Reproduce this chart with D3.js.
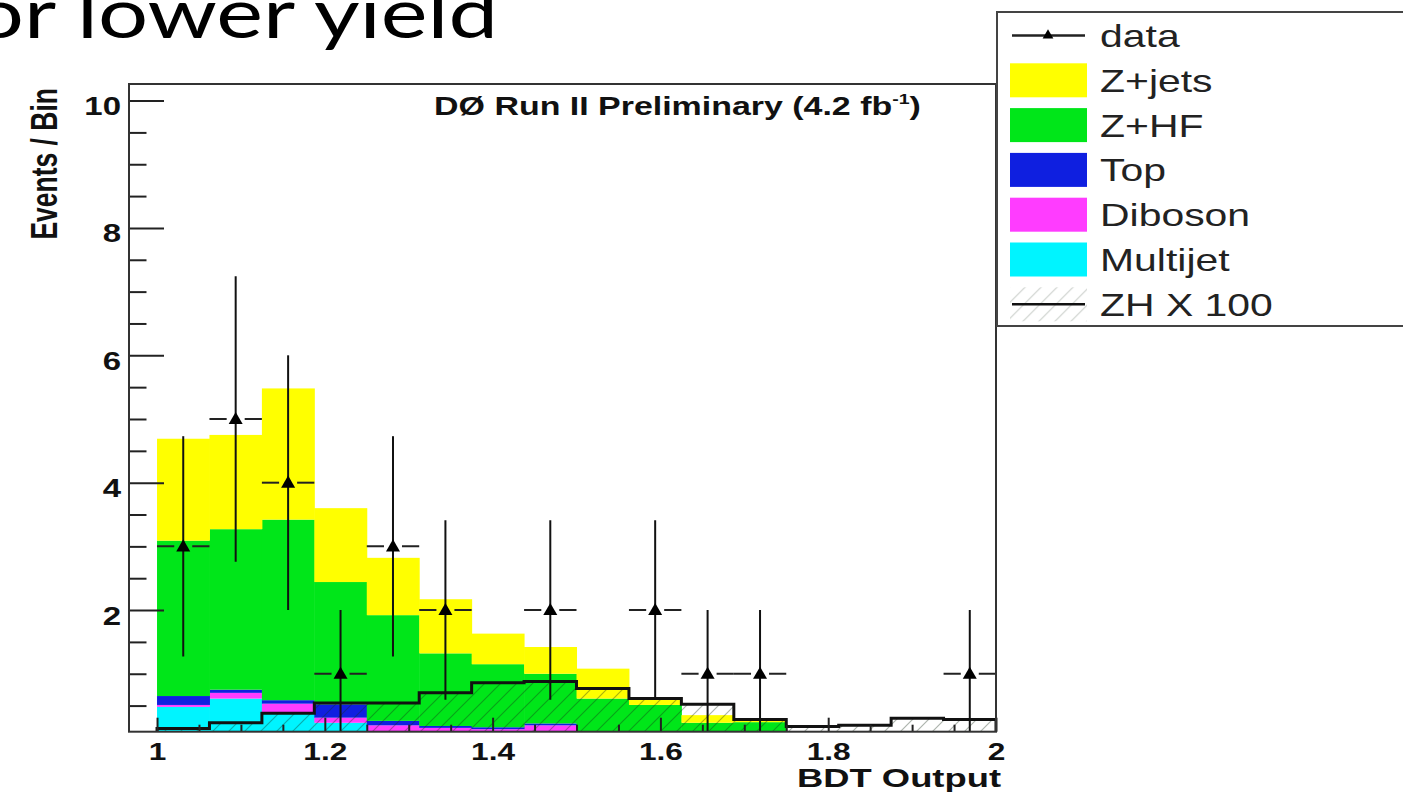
<!DOCTYPE html>
<html lang="en">
<head>
<meta charset="UTF-8">
<title>BDT Output</title>
<script src="https://cdnjs.cloudflare.com/ajax/libs/d3/7.8.5/d3.min.js"></script>
<style>
  body { margin: 0; background: #fff; }
  svg { display: block; }
  .axis path.domain { display: none; }
  .axis line { stroke: #222; stroke-width: 2px; }
  .axis text { font-family: "Liberation Sans", Arial, sans-serif; font-weight: bold; fill: #111; }
  .xaxis text { font-size: 24px; }
  .yaxis text { font-size: 25px; }
</style>
</head>
<body>
<script>
// bin edges of the BDT output histogram
var binEdges = [1.0000, 1.0625, 1.1250, 1.1875, 1.2500, 1.3125, 1.3750, 1.4375, 1.5000,
                1.5625, 1.6250, 1.6875, 1.7500, 1.8125, 1.8750, 1.9375, 2.0000];

// stacked backgrounds (events per bin), bottom to top
var multijet = [0.48, 0.61, 0.38, 0.23, 0.05, 0.05, 0.05, 0.06, 0.02, 0.02, 0.01, 0.01, 0.01, 0, 0, 0];
var diboson  = [0.03, 0.09, 0.15, 0.08, 0.14, 0.10, 0.08, 0.13, 0.02, 0.01, 0.01, 0.01, 0, 0, 0, 0];
var topq     = [0.14, 0.05, 0.055, 0.21, 0.07, 0.03, 0.03, 0.03, 0.02, 0.02, 0.01, 0.01, 0, 0, 0, 0];
var zhf      = [2.44, 2.52, 2.835, 1.92, 1.66, 1.14, 0.99, 0.78, 0.55, 0.46, 0.20, 0.21, 0.04, 0.02, 0.02, 0.01];
var zjets    = [1.60, 1.48, 2.06, 1.16, 0.90, 0.85, 0.48, 0.42, 0.47, 0.12, 0.12, 0.06, 0.03, 0.02, 0.01, 0.01];

// signal ZH x 100 (outline, hatched)
var zh100 = [0.14, 0.23, 0.38, 0.54, 0.54, 0.70, 0.86, 0.88, 0.77, 0.61, 0.52, 0.28, 0.17, 0.19, 0.30, 0.28];

// observed data and errors
var dataCounts = [3, 5, 4, 1, 3, 2, 0, 2, 0, 2, 1, 1, 0, 0, 0, 1];
var dataErr    = [1.73, 2.24, 2, 1, 1.73, 1.41, 0, 1.41, 0, 1.41, 1, 1, 0, 0, 0, 1];

var xMajor = [1, 1.2, 1.4, 1.6, 1.8, 2];
var xTickLabels = ["1", "1.2", "1.4", "1.6", "1.8", "2"];
var yMajor = [2, 4, 6, 8, 10];
var yTickLabels = ["2", "4", "6", "8", "10"];

var layerKeys = ["multijet", "diboson", "top", "zhf", "zjets"];
var layerColors = {
    multijet: "#00f4ff",
    diboson: "#ff3cff",
    top: "#0f1fe0",
    zhf: "#00e619",
    zjets: "#ffff00"
};
var legendLabels = ["data", "Z+jets", "Z+HF", "Top", "Diboson", "Multijet", "ZH X 100"];
var legendKeys = ["data", "zjets", "zhf", "top", "diboson", "multijet", "zh"];

var W = 1403, H = 797;
var SX = 1.32; // the whole slide is stretched horizontally
var plot = { left: 129, right: 996, top: 84, bottom: 731.7 };

var svg = d3.select("body").append("svg")
    .attr("width", W)
    .attr("height", H);

var defs = svg.append("defs");
defs.append("clipPath").attr("id", "plotclip")
    .append("rect")
    .attr("x", plot.left).attr("y", plot.top)
    .attr("width", plot.right - plot.left)
    .attr("height", plot.bottom - plot.top);

var hatch = defs.append("pattern")
    .attr("id", "hatch")
    .attr("patternUnits", "userSpaceOnUse")
    .attr("width", 16).attr("height", 16);
hatch.append("path")
    .attr("d", "M-4,4 L4,-4 M0,16 L16,0 M12,20 L20,12")
    .attr("stroke", "rgba(20,40,20,0.35)")
    .attr("stroke-width", 1.2);

var x = d3.scaleLinear().domain([0.9666, 2]).range([plot.left, plot.right]);
var y = d3.scaleLinear().domain([0.09, 10.26]).range([plot.bottom, plot.top]);

// bins table for the stack
var bins = binEdges.slice(0, -1).map(function(lo, i) {
    return {
        lo: lo,
        hi: binEdges[i + 1],
        multijet: multijet[i],
        diboson: diboson[i],
        top: topq[i],
        zhf: zhf[i],
        zjets: zjets[i]
    };
});

var stacked = d3.stack().keys(layerKeys)(bins);

var g = svg.append("g").attr("clip-path", "url(#plotclip)");

g.selectAll(".layer")
    .data(stacked)
    .enter().append("g")
    .attr("class", "layer")
    .attr("fill", function(d) { return layerColors[d.key]; })
    .selectAll("rect")
    .data(function(d) { return d; })
    .enter().append("rect")
    .attr("x", function(d) { return x(d.data.lo); })
    .attr("width", function(d) { return x(d.data.hi) - x(d.data.lo) + 0.5; })
    .attr("y", function(d) { return y(d[1]); })
    .attr("height", function(d) { return Math.max(0, y(d[0]) - y(d[1])); });

// ZH x 100 step outline + hatch
var zhPts = [];
bins.forEach(function(b, i) {
    zhPts.push([b.lo, zh100[i]]);
    zhPts.push([b.hi, zh100[i]]);
});
var zhArea = d3.area()
    .x(function(d) { return x(d[0]); })
    .y0(y(0.09))
    .y1(function(d) { return y(d[1]); });
g.append("path")
    .datum(zhPts)
    .attr("d", zhArea)
    .attr("fill", "url(#hatch)");

var outline = [[1, 0.09]].concat(zhPts).concat([[2, 0.09]]);
g.append("path")
    .datum(outline)
    .attr("d", d3.line().x(function(d) { return x(d[0]); }).y(function(d) { return y(d[1]); }))
    .attr("fill", "none")
    .attr("stroke", "#111")
    .attr("stroke-width", 3);

// data points
var pts = bins.map(function(b, i) {
    return { lo: b.lo, hi: b.hi, c: (b.lo + b.hi) / 2, v: dataCounts[i], e: dataErr[i] };
}).filter(function(d) { return d.v > 0; });

var dg = g.selectAll(".pt").data(pts).enter().append("g").attr("class", "pt");
dg.append("line")
    .attr("x1", function(d) { return x(d.c); })
    .attr("x2", function(d) { return x(d.c); })
    .attr("y1", function(d) { return y(d.v - d.e); })
    .attr("y2", function(d) { return y(d.v + d.e); })
    .attr("stroke", "#111").attr("stroke-width", 2);
dg.append("line")
    .attr("x1", function(d) { return x(d.lo); })
    .attr("x2", function(d) { return x(d.c) - 9; })
    .attr("y1", function(d) { return y(d.v); })
    .attr("y2", function(d) { return y(d.v); })
    .attr("stroke", "#222").attr("stroke-width", 2);
dg.append("line")
    .attr("x1", function(d) { return x(d.c) + 9; })
    .attr("x2", function(d) { return x(d.hi); })
    .attr("y1", function(d) { return y(d.v); })
    .attr("y2", function(d) { return y(d.v); })
    .attr("stroke", "#222").attr("stroke-width", 2);
dg.append("path")
    .attr("d", d3.symbol(d3.symbolTriangle, 85))
    .attr("transform", function(d) { return "translate(" + x(d.c) + "," + (y(d.v) + 1) + ")"; })
    .attr("fill", "#000");

// axes
var xMinor = d3.range(1, 2.0001, 0.05).filter(function(v) {
    return Math.abs(v * 5 - Math.round(v * 5)) > 1e-6;
});
var yMinor = d3.range(0.5, 10.01, 0.5).filter(function(v) { return v % 2 !== 0; });

var xAx = svg.append("g").attr("class", "axis xaxis")
    .attr("transform", "translate(0," + plot.bottom + ")")
    .call(d3.axisBottom(x).tickValues(xMajor).tickSize(-14).tickSizeOuter(0)
        .tickFormat(function(d, i) { return xTickLabels[i]; }));
xAx.selectAll("text")
    .attr("y", null).attr("dy", null)
    .attr("transform", "translate(0,28.5) scale(" + SX + ",1)");
svg.append("g").attr("class", "axis")
    .attr("transform", "translate(0," + plot.bottom + ")")
    .call(d3.axisBottom(x).tickValues(xMinor).tickSize(-7).tickSizeOuter(0).tickFormat(""));

var yAx = svg.append("g").attr("class", "axis yaxis")
    .attr("transform", "translate(" + plot.left + ",0)")
    .call(d3.axisLeft(y).tickValues(yMajor).tickSize(-35).tickSizeOuter(0)
        .tickFormat(function(d, i) { return yTickLabels[i]; }));
yAx.selectAll("text")
    .attr("x", null).attr("dy", null)
    .attr("text-anchor", "end")
    .attr("transform", "translate(-8,14) scale(" + SX + ",1)");
svg.append("g").attr("class", "axis")
    .attr("transform", "translate(" + plot.left + ",0)")
    .call(d3.axisLeft(y).tickValues(yMinor).tickSize(-17.5).tickSizeOuter(0).tickFormat(""));

// frame
svg.append("rect")
    .attr("x", plot.left).attr("y", plot.top)
    .attr("width", plot.right - plot.left)
    .attr("height", plot.bottom - plot.top)
    .attr("fill", "none")
    .attr("stroke", "#333")
    .attr("stroke-width", 2);

// helper: scale factor to bring a text to a target width
function fitText(t, target) {
    var w = t.node().getComputedTextLength();
    return target / w;
}

// axis titles
var xt = svg.append("text")
    .attr("text-anchor", "end")
    .style("font-family", "Liberation Sans, Arial, sans-serif")
    .style("font-weight", "bold")
    .style("font-size", "26px")
    .attr("fill", "#111")
    .text("BDT Output");
xt.attr("transform", "translate(1001,787) scale(" + fitText(xt, 204) + ",1)");

var yt = svg.append("text")
    .attr("text-anchor", "end")
    .style("font-family", "Liberation Sans, Arial, sans-serif")
    .style("font-weight", "bold")
    .style("font-size", "26.5px")
    .attr("fill", "#111")
    .text("Events / Bin");
yt.attr("transform", "translate(57,88) rotate(-90) scale(1,1.38)");

// experiment label
var lab = svg.append("text")
    .attr("text-anchor", "middle")
    .style("font-family", "Liberation Sans, Arial, sans-serif")
    .style("font-weight", "bold")
    .style("font-size", "26px")
    .attr("fill", "#111");
lab.append("tspan").text("D\u00d8 Run II Preliminary (4.2 fb");
lab.append("tspan").attr("font-size", "15px").attr("dy", -11).text("-1");
lab.append("tspan").attr("dy", 11).text(")");
lab.attr("transform", "translate(677.5,115) scale(" + fitText(lab, 487) + ",1)");

// slide title, cut at the top left like the slide it comes from
var title = svg.append("text")
    .attr("text-anchor", "end")
    .style("font-family", "Lato, 'Open Sans', sans-serif")
    .style("font-size", "70px")
    .attr("fill", "#000")
    .text("for lower yield");
var subW = title.node().getSubStringLength(4, 11);
title.attr("transform", "translate(498,38) scale(" + (421 / subW) + ",1)");

// legend
var leg = svg.append("g");
leg.append("rect")
    .attr("x", 997).attr("y", 12)
    .attr("width", 450).attr("height", 314)
    .attr("fill", "#fff")
    .attr("stroke", "#444")
    .attr("stroke-width", 2);

var rows = leg.selectAll(".row")
    .data(legendKeys)
    .enter().append("g")
    .attr("class", "row")
    .attr("transform", function(d, i) { return "translate(0," + (35.5 + i * 44.8) + ")"; });

rows.filter(function(d) { return layerColors[d]; })
    .append("rect")
    .attr("x", 1010).attr("y", -17)
    .attr("width", 77).attr("height", 34)
    .attr("fill", function(d) { return layerColors[d]; });

var dataRow = rows.filter(function(d) { return d === "data"; });
dataRow.append("line")
    .attr("x1", 1012).attr("x2", 1085)
    .attr("stroke", "#222").attr("stroke-width", 2.5);
dataRow.append("path")
    .attr("d", d3.symbol(d3.symbolTriangle, 50))
    .attr("transform", "translate(1048,0)")
    .attr("fill", "#000");

var zhRow = rows.filter(function(d) { return d === "zh"; });
zhRow.append("rect")
    .attr("x", 1010).attr("y", -17)
    .attr("width", 77).attr("height", 34)
    .attr("fill", "url(#hatch)")
    .attr("opacity", 0.6);
zhRow.append("line")
    .attr("x1", 1012).attr("x2", 1085)
    .attr("stroke", "#111").attr("stroke-width", 2.5);

rows.append("text")
    .attr("transform", "translate(1100,11.5) scale(" + SX + ",1)")
    .style("font-family", "Liberation Sans, Arial, sans-serif")
    .style("font-size", "31px")
    .attr("fill", "#222")
    .text(function(d, i) { return legendLabels[i]; });
</script>
</body>
</html>
